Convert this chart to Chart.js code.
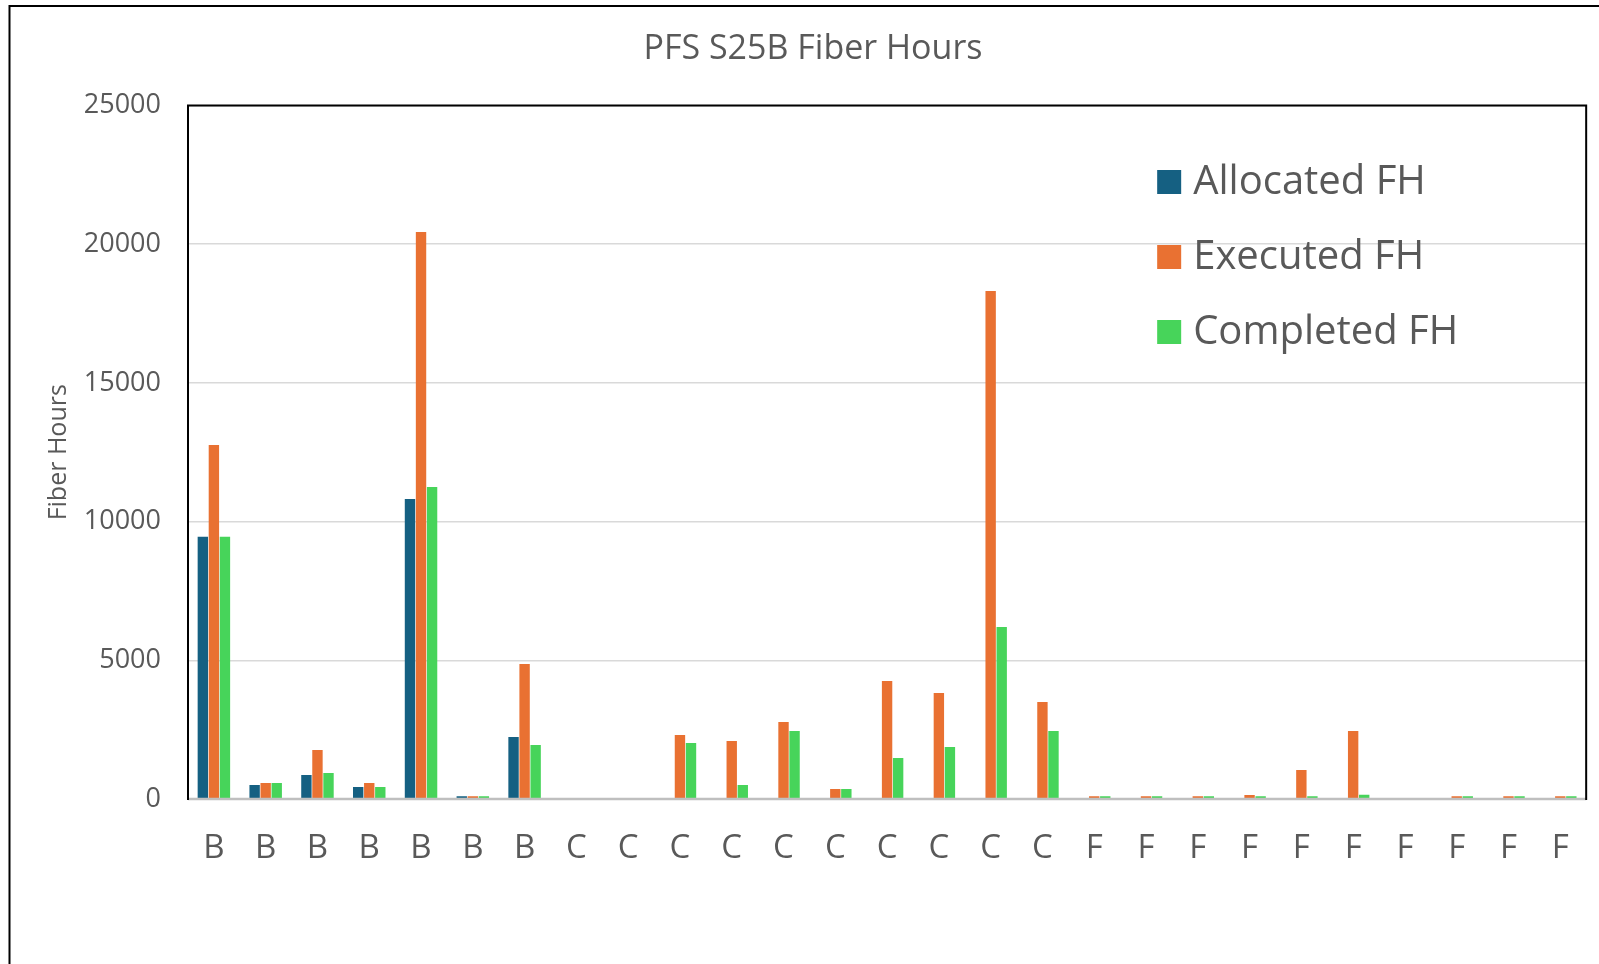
<!DOCTYPE html>
<html>
<head>
<meta charset="utf-8">
<script src="https://cdn.jsdelivr.net/npm/chart.js@4.4.1/dist/chart.umd.min.js"></script>
<style>
  html, body { margin: 0; padding: 0; background: #ffffff; }
  #wrap { position: relative; width: 1599px; height: 964px; }
</style>
</head>
<body>
<div id="wrap"><canvas id="c" width="1599" height="964"></canvas></div>
<script>
// ---- data ----
const categories = ['B','B','B','B','B','B','B','C','C','C','C','C','C','C','C','C','C','F','F','F','F','F','F','F','F','F','F'];
const allocatedFH = [9450, 505, 865, 433, 10815, 100, 2235, null, null, null, null, null, null, null, null, null, null, null, null, null, null, null, null, null, null, null, null];
const executedFH  = [12760, 577, 1766, 577, 20440, 100, 4866, null, null, 2307, 2091, 2776, 360, 4254, 3821, 18313, 3497, 100, 100, 100, 144, 1045, 2451, null, 100, 100, 100];
const completedFH = [9450, 577, 937, 433, 11247, 100, 1947, null, null, 2019, 505, 2451, 360, 1478, 1875, 6200, 2451, 100, 100, 100, 100, 100, 150, null, 100, 100, 100];
const seriesNames = ['Allocated FH', 'Executed FH', 'Completed FH'];
const yTicks = [0, 5000, 10000, 15000, 20000, 25000];
const chartTitle = 'PFS S25B Fiber Hours';
const yTitle = 'Fiber Hours';

const COLORS = ['#156082', '#E97132', '#47D45A'];
const TEXT = '#595959';
const FONT = "'Open Sans', 'Noto Sans', sans-serif";

const framePlugin = {
  id: 'frames',
  beforeDraw(chart) {
    const ctx = chart.ctx;
    ctx.save();
    ctx.fillStyle = '#ffffff';
    ctx.fillRect(0, 0, chart.width, chart.height);
    ctx.strokeStyle = '#000000';
    ctx.lineWidth = 2;
    ctx.strokeRect(9.5, 6, chart.width + 50, chart.height + 50);
    ctx.restore();
  },
  afterDatasetsDraw(chart) {
    const ctx = chart.ctx;
    const a = chart.chartArea;
    ctx.save();
    ctx.strokeStyle = '#bfbfbf';
    ctx.lineWidth = 2.5;
    ctx.beginPath();
    ctx.moveTo(a.left, a.bottom);
    ctx.lineTo(a.right, a.bottom);
    ctx.stroke();
    ctx.strokeStyle = '#000000';
    ctx.lineWidth = 2;
    ctx.beginPath();
    ctx.moveTo(a.left, a.bottom + 1);
    ctx.lineTo(a.left, a.top);
    ctx.lineTo(a.right, a.top);
    ctx.lineTo(a.right, a.bottom + 1);
    ctx.stroke();
    ctx.restore();
  },
  afterDraw(chart) {
    const ctx = chart.ctx;
    const a = chart.chartArea;
    ctx.save();
    // chart title
    ctx.font = "34px " + FONT;
    ctx.fillStyle = TEXT;
    ctx.textAlign = 'center';
    ctx.textBaseline = 'middle';
    ctx.fillText(chartTitle, 813, 49);
    // legend inside the plot area, top-right
    const x0 = a.right - 429;
    const rows = [182, 257, 332];
    ctx.font = "40px " + FONT;
    ctx.textAlign = 'left';
    chart.data.datasets.forEach((ds, i) => {
      ctx.fillStyle = ds.backgroundColor;
      ctx.fillRect(x0, rows[i] - 12, 24, 24);
      ctx.fillStyle = TEXT;
      ctx.fillText(ds.label, x0 + 36, rows[i] + 1);
    });
    ctx.restore();
  }
};

new Chart(document.getElementById('c'), {
  type: 'bar',
  data: {
    labels: categories,
    datasets: [
      { label: seriesNames[0], data: allocatedFH, backgroundColor: COLORS[0] },
      { label: seriesNames[1], data: executedFH,  backgroundColor: COLORS[1] },
      { label: seriesNames[2], data: completedFH, backgroundColor: COLORS[2] }
    ]
  },
  options: {
    responsive: false,
    animation: false,
    layout: { padding: { left: 0, right: 11, top: 105.5, bottom: 0 } },
    datasets: { bar: { categoryPercentage: 0.64, barPercentage: 0.94, borderWidth: 0 } },
    plugins: {
      legend: { display: false },
      tooltip: { enabled: false },
      title: { display: false }
    },
    scales: {
      x: {
        grid: { display: false, drawTicks: false },
        border: { display: false },
        ticks: {
          color: TEXT,
          font: { family: FONT, size: 33 },
          padding: 30,
          maxRotation: 0,
          autoSkip: false
        },
        afterFit(scale) { scale.height = 165; }
      },
      y: {
        min: yTicks[0],
        max: yTicks[yTicks.length - 1],
        grid: { color: '#d9d9d9', lineWidth: 1.5, drawTicks: false },
        border: { display: false },
        afterBuildTicks(scale) { scale.ticks = yTicks.map(v => ({ value: v })); },
        ticks: {
          color: TEXT,
          font: { family: FONT, size: 27 },
          padding: 27,
          callback: v => String(v)
        },
        title: {
          display: true,
          text: yTitle,
          color: TEXT,
          font: { family: FONT, size: 25 },
          padding: { top: 44, bottom: 44 }
        },
        afterFit(scale) { scale.width = 188; }
      }
    }
  },
  plugins: [framePlugin]
});
</script>
</body>
</html>
